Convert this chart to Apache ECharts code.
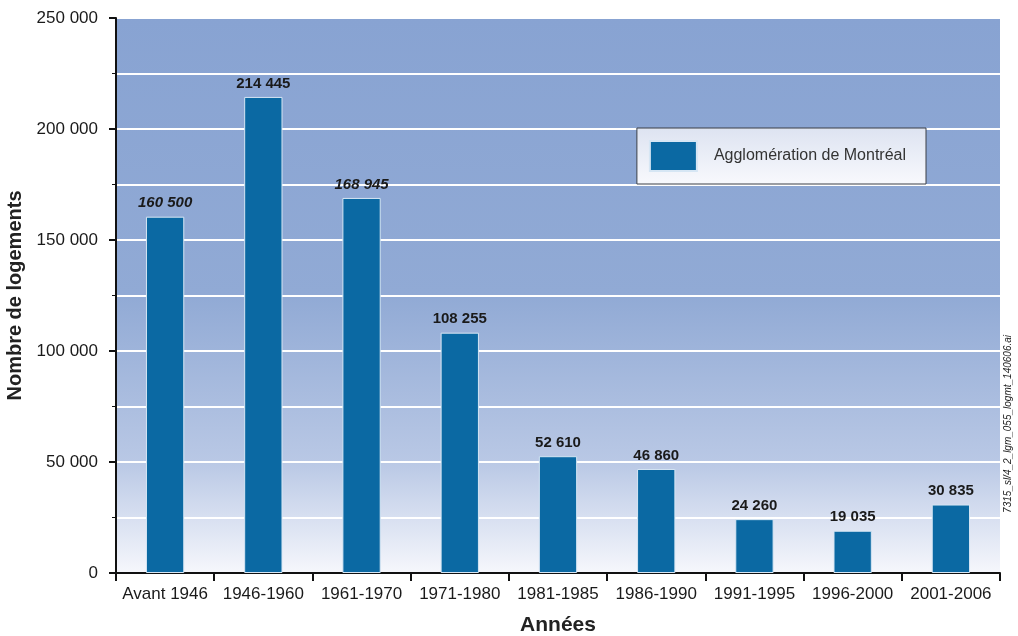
<!DOCTYPE html>
<html>
<head>
<meta charset="utf-8">
<script src="https://cdn.jsdelivr.net/npm/echarts@6/dist/echarts.min.js"></script>
<style>
  html, body { margin: 0; padding: 0; background: #fff; }
  #chart { width: 1018px; height: 636px; }
</style>
</head>
<body>
<div id="chart"></div>
<script>
var periodes = ['Avant 1946', '1946-1960', '1961-1970', '1971-1980', '1981-1985', '1986-1990', '1991-1995', '1996-2000', '2001-2006'];
var logements = [160500, 214445, 168945, 108255, 52610, 46860, 24260, 19035, 30835];
var italiques = [true, false, true, false, false, false, false, false, false];
var yTicks = [0, 50000, 100000, 150000, 200000, 250000];

function fmt(v) {
    return String(v).replace(/\B(?=(\d{3})+(?!\d))/g, ' ');
}

var chart = echarts.init(document.getElementById('chart'));

var barData = logements.map(function (v, i) {
    return {
        value: v,
        label: { fontStyle: italiques[i] ? 'italic' : 'normal' }
    };
});

chart.setOption({
    animation: false,
    textStyle: { fontFamily: 'Liberation Sans, Arial, sans-serif' },
    grid: {
        left: 116, right: 18, top: 18, bottom: 63,
        outerBoundsMode: 'none',
        containLabel: false,
        show: true,
        borderWidth: 0,
        backgroundColor: {
            type: 'linear', x: 0, y: 0, x2: 0, y2: 1,
            colorStops: [
                { offset: 0, color: '#88a3d2' },
                { offset: 0.5, color: '#91aad5' },
                { offset: 0.8, color: '#b9c8e5' },
                { offset: 1, color: '#f6f7fc' }
            ]
        }
    },
    legend: {
        right: 92, top: 128,
        orient: 'vertical',
        padding: [12, 20, 12, 12],
        itemWidth: 47, itemHeight: 30,
        icon: 'rect',
        backgroundColor: {
            type: 'linear', x: 0, y: 0, x2: 0, y2: 1,
            colorStops: [
                { offset: 0, color: '#dde3f1' },
                { offset: 1, color: '#f8f9fd' }
            ]
        },
        borderColor: '#3a3f47', borderWidth: 1,
        textStyle: { fontSize: 16, color: '#333', padding: [0, 0, 0, 12] },
        data: ['Agglomération de Montréal']
    },
    xAxis: {
        type: 'category',
        data: periodes,
        name: 'Années',
        nameLocation: 'middle',
        nameGap: 42,
        nameTextStyle: { fontSize: 21, fontWeight: 'bold', color: '#222' },
        axisLine: { lineStyle: { color: '#111', width: 2 } },
        axisTick: { show: true, length: 8, lineStyle: { color: '#111', width: 2 } },
        axisLabel: { interval: 0, fontSize: 17, color: '#1a1a1a', margin: 13 }
    },
    yAxis: {
        type: 'value',
        min: yTicks[0], max: yTicks[yTicks.length - 1], interval: 50000,
        name: 'Nombre de logements',
        nameLocation: 'middle',
        nameGap: 88,
        nameTextStyle: { fontSize: 20, fontWeight: 'bold', color: '#222' },
        axisLine: { show: true, lineStyle: { color: '#111', width: 2 } },
        axisTick: { show: true, length: 7, lineStyle: { color: '#111', width: 2 } },
        minorTick: { show: true, splitNumber: 2, length: 4, lineStyle: { color: '#111' } },
        splitLine: { lineStyle: { color: '#ffffff', width: 2 } },
        minorSplitLine: { show: true, lineStyle: { color: '#ffffff', width: 2 } },
        axisLabel: { fontSize: 17, color: '#1a1a1a', margin: 18, formatter: fmt }
    },
    series: [{
        name: 'Agglomération de Montréal',
        type: 'bar',
        barWidth: '39%',
        data: barData,
        itemStyle: { color: '#0b69a3', borderColor: '#d6e6f4', borderWidth: 1 },
        label: {
            show: true, position: 'top', distance: 6,
            fontSize: 15, fontWeight: 'bold', color: '#1a1a1a',
            formatter: function (p) { return fmt(p.value); }
        }
    }],
    graphic: [{
        type: 'text',
        left: 1003, top: 335,
        rotation: Math.PI / 2,
        style: {
            text: '7315_sl/4_2_lgm_055_logmt_140606.ai',
            fontSize: 10, fontStyle: 'italic', fill: '#222',
            fontFamily: 'Liberation Sans, Arial, sans-serif'
        }
    }]
});
</script>
</body>
</html>
